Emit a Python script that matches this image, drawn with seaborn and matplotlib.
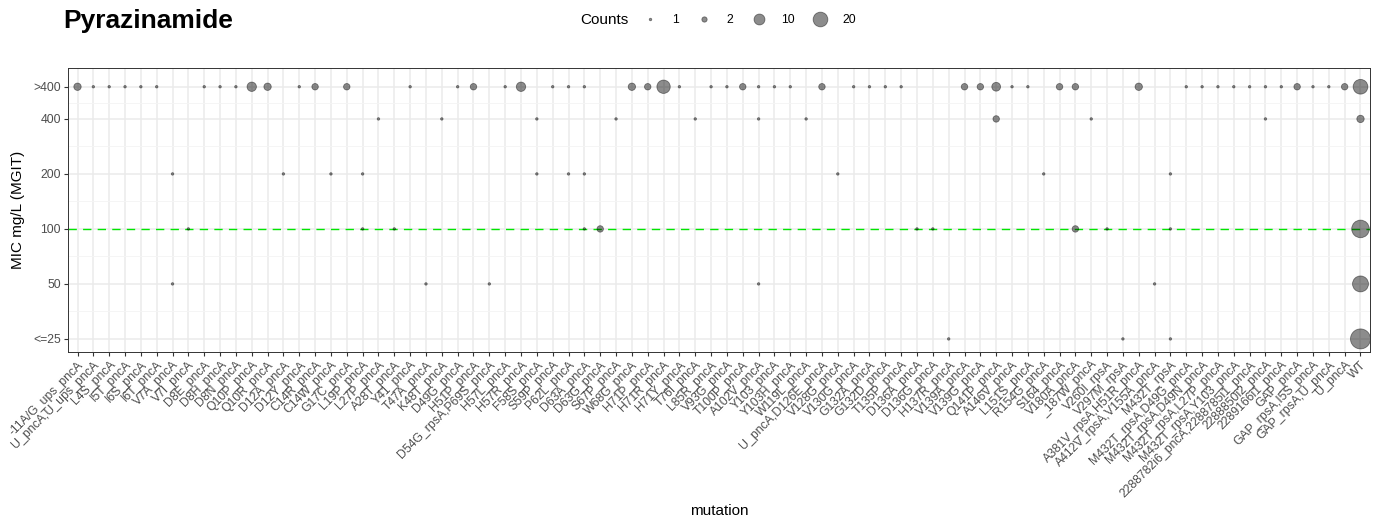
import numpy as np
import pandas as pd
import matplotlib
matplotlib.use("AGG")
import matplotlib.pyplot as plt
from matplotlib.lines import Line2D
from matplotlib.ticker import NullFormatter
import seaborn as sns

# mutation categories, in axis order
mutations = [
    "-11A/G_ups_pncA", "U_pncA,U_ups_pncA", "L4S_pncA", "I5T_pncA", "I6S_pncA",
    "I6T_pncA", "V7A_pncA", "V7I_pncA", "D8E_pncA", "D8H_pncA", "D8N_pncA",
    "Q10P_pncA", "Q10R_pncA", "D12A_pncA", "D12Y_pncA", "C14R_pncA", "C14W_pncA",
    "G17C_pncA", "L19P_pncA", "L27P_pncA", "A28T_pncA", "Y41_pncA", "T47A_pncA",
    "K48T_pncA", "D49G_pncA", "H51P_pncA", "D54G_rpsA,P69S_pncA", "H57L_pncA",
    "H57R_pncA", "F58S_pncA", "S59P_pncA", "P62L_pncA", "D63A_pncA", "D63G_pncA",
    "S67P_pncA", "W68G_pncA", "H71P_pncA", "H71R_pncA", "H71Y_pncA", "T76I_pncA",
    "L85R_pncA", "V93G_pncA", "T100P_pncA", "A102V_pncA", "Y103_pncA",
    "Y103H_pncA", "W119L_pncA", "U_pncA,D126E_pncA", "V128G_pncA", "V130G_pncA",
    "G132A_pncA", "G132D_pncA", "T135P_pncA", "D136A_pncA", "D136G_pncA",
    "H137R_pncA", "V139A_pncA", "V139G_pncA", "Q141P_pncA", "A146V_pncA",
    "L151S_pncA", "R154G_pncA", "S164_pncA", "V180A_pncA", "_187W_pncA",
    "V260I_rpsA", "V297M_rpsA", "A381V_rpsA,H51R_pncA", "A412V_rpsA,V155A_pncA",
    "M432T_rpsA", "M432T_rpsA,D49G_pncA", "M432T_rpsA,D49N_pncA",
    "M432T_rpsA,L27P_pncA", "M432T_rpsA,Y103_pncA",
    "2288782i6_pncA,2288785i1_pncA", "2288850i2_pncA", "2289166i1_pncA",
    "GAP_pncA", "GAP_rpsA,I5S_pncA", "GAP_rpsA,U_pncA", "U_pncA", "WT",
]

# MIC levels (label -> value on log axis)
mic_labels = ["<=25", "50", "100", "200", "400", ">400"]
mic_values = [25, 50, 100, 200, 400, 600]

# counts per MIC level: {mutation index: count}
counts_gt400 = {0: 4, 1: 1, 2: 1, 3: 1, 4: 1, 5: 1, 8: 1, 9: 1, 10: 1, 11: 7,
                12: 4, 14: 1, 15: 3, 17: 3, 21: 1, 24: 1, 25: 3, 27: 1, 28: 7,
                30: 1, 31: 1, 32: 1, 35: 4, 36: 3, 37: 16, 38: 1, 40: 1, 41: 1,
                42: 3, 43: 1, 44: 1, 45: 1, 47: 3, 49: 1, 50: 1, 51: 1, 52: 1,
                56: 3, 57: 3, 58: 6, 59: 1, 60: 1, 62: 3, 63: 3, 67: 4, 70: 1,
                71: 1, 72: 1, 73: 1, 74: 1, 75: 1, 76: 1, 77: 3, 78: 1, 79: 1,
                80: 3, 81: 20}
counts_400 = {19: 1, 23: 1, 29: 1, 34: 1, 39: 1, 43: 1, 46: 1, 58: 3, 64: 1,
              75: 1, 81: 4}
counts_200 = {6: 1, 13: 1, 16: 1, 18: 1, 29: 1, 31: 1, 32: 1, 48: 1, 61: 1, 69: 1}
counts_100 = {7: 1, 18: 1, 20: 1, 32: 1, 33: 3, 53: 1, 54: 1, 63: 3, 65: 1,
              69: 1, 81: 30}
counts_50 = {6: 1, 22: 1, 26: 1, 43: 1, 68: 1, 81: 24}
counts_le25 = {55: 1, 66: 1, 69: 1, 81: 40}

legend_counts = [1, 2, 10, 20]
breakpoint_mic = 100

# build long table
rows = []
for lab, val, d in zip(mic_labels, mic_values,
                       [counts_le25, counts_50, counts_100, counts_200, counts_400, counts_gt400]):
    for i, c in d.items():
        rows.append((i, mutations[i], val, c))
df = pd.DataFrame(rows, columns=["idx", "mutation", "MIC", "Counts"])
df = df.sort_values(["idx", "MIC"]).reset_index(drop=True)
df["mutation"] = pd.Categorical(df["mutation"], categories=mutations, ordered=True)

# ggplot-like area scale: diameter grows with sqrt of count
cmax = df["Counts"].max()
def marker_area(c):
    d_px = 2.5 + 17.5 * np.sqrt((c - 1) / (cmax - 1))
    return (d_px * 0.72) ** 2

size_map = {c: marker_area(c) for c in sorted(set(df["Counts"]) | set(legend_counts))}

sns.set_style("white")
plt.rcParams['font.family'] = ['Liberation Sans', 'DejaVu Sans']
plt.rcParams['text.color'] = 'black'

fig = plt.figure(figsize=(13.78, 5.22), dpi=100)
ax = fig.add_axes([68 / 1378, 1 - 352 / 522, (1370 - 68) / 1378, (352 - 68) / 522])

ax.set_yscale("log", base=2)
ax.set_axisbelow(True)

sns.scatterplot(data=df, x="mutation", y="MIC", size="Counts", sizes=size_map,
                color="black", alpha=0.45, edgecolor="black", linewidth=0.6,
                legend=False, ax=ax, zorder=3)

ax.axhline(breakpoint_mic, color="#00e600", lw=1.0, ls=(0, (6, 4.5)), zorder=2)

ax.set_xlim(-0.6, len(mutations) - 1 + 0.6)
ax.set_ylim(21.2, 760)

ax.set_yticks(mic_values)
ax.set_yticklabels(mic_labels)
minor_y = [np.sqrt(a * b) for a, b in zip(mic_values[:-1], mic_values[1:])]
ax.set_yticks(minor_y, minor=True)
ax.yaxis.set_minor_formatter(NullFormatter())
ax.set_xticks(range(len(mutations)))
ax.set_xticklabels(mutations, rotation=45, ha="right", va="top",
                   rotation_mode="anchor")

ax.grid(True, which="major", color="#ebebeb", lw=1.1)
ax.grid(True, which="minor", axis="y", color="#f4f4f4", lw=0.6)
ax.tick_params(axis="both", which="major", length=3, width=0.8, color="#333333",
               labelsize=8.8, labelcolor="#4d4d4d", pad=2)
ax.tick_params(axis="y", which="minor", length=0)
ax.tick_params(axis="x", which="major", direction="out", bottom=True)
ax.tick_params(axis="y", which="major", direction="out", left=True)
for s in ax.spines.values():
    s.set_color("#333333")
    s.set_linewidth(0.7)

ax.set_xlabel("")
ax.set_ylabel("")
fig.text(719 / 1378, 1 - 511 / 522, "mutation", fontsize=11, ha="center", va="center")
fig.text(18 / 1378, 1 - 210 / 522, "MIC mg/L (MGIT)", fontsize=11, rotation=90,
         ha="center", va="center")

fig.text(63 / 1378, 1 - 21 / 522, "Pyrazinamide", fontsize=19, fontweight="bold",
         color="black", ha="left", va="center")

# size legend across the top
fig.text(580 / 1378, 1 - 20 / 522, "Counts", fontsize=11, ha="left", va="center")
handles = [Line2D([], [], ls="", marker="o", markersize=np.sqrt(size_map[c]),
                  markerfacecolor="black", markeredgecolor="black", alpha=0.45,
                  markeredgewidth=0.6) for c in legend_counts]
fig.legend(handles, [str(c) for c in legend_counts], loc="center left",
           bbox_to_anchor=(640 / 1378, 1 - 20 / 522), ncol=4, frameon=False,
           fontsize=8.8, handlelength=1.6, handletextpad=1.05, columnspacing=1.25,
           borderpad=0, borderaxespad=0, labelcolor="black")

plt.savefig("out.png", dpi=100)
